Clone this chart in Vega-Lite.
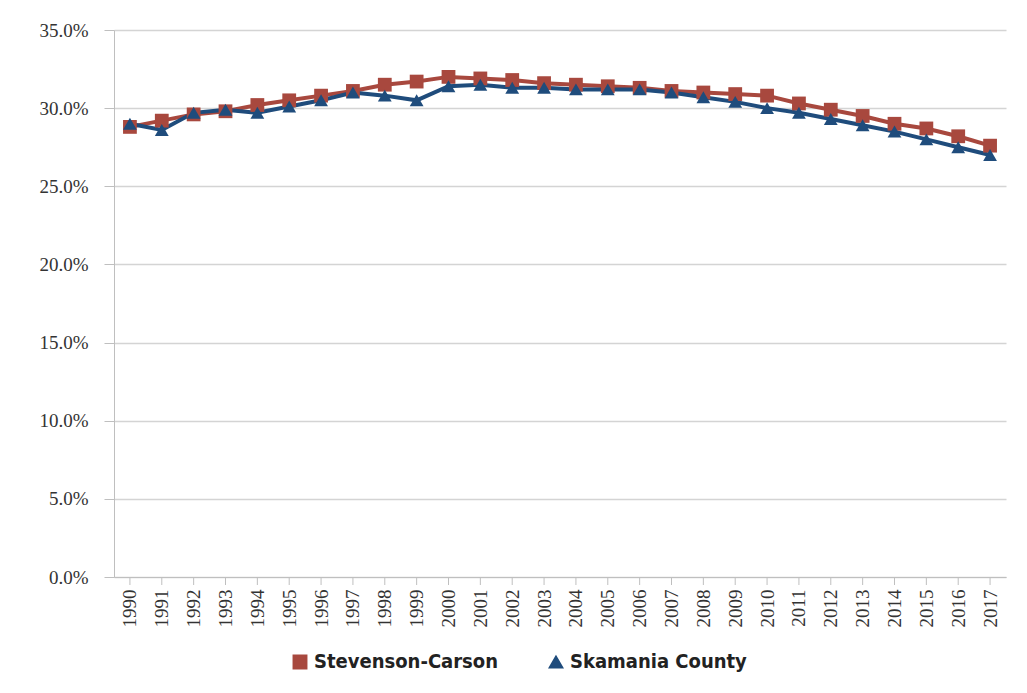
{
  "$schema": "https://vega.github.io/schema/vega-lite/v6.json",
  "width": 892,
  "height": 547,
  "autosize": {"type": "none"},
  "padding": {"left": 114, "top": 30, "right": 21, "bottom": 116},
  "background": "white",
  "config": {"view": {"stroke": null}},
  "data": {"values": [
    {"year": "1990", "series": "Stevenson-Carson", "value": 0.288},
    {"year": "1991", "series": "Stevenson-Carson", "value": 0.292},
    {"year": "1992", "series": "Stevenson-Carson", "value": 0.296},
    {"year": "1993", "series": "Stevenson-Carson", "value": 0.298},
    {"year": "1994", "series": "Stevenson-Carson", "value": 0.302},
    {"year": "1995", "series": "Stevenson-Carson", "value": 0.305},
    {"year": "1996", "series": "Stevenson-Carson", "value": 0.308},
    {"year": "1997", "series": "Stevenson-Carson", "value": 0.311},
    {"year": "1998", "series": "Stevenson-Carson", "value": 0.315},
    {"year": "1999", "series": "Stevenson-Carson", "value": 0.317},
    {"year": "2000", "series": "Stevenson-Carson", "value": 0.320},
    {"year": "2001", "series": "Stevenson-Carson", "value": 0.319},
    {"year": "2002", "series": "Stevenson-Carson", "value": 0.318},
    {"year": "2003", "series": "Stevenson-Carson", "value": 0.316},
    {"year": "2004", "series": "Stevenson-Carson", "value": 0.315},
    {"year": "2005", "series": "Stevenson-Carson", "value": 0.314},
    {"year": "2006", "series": "Stevenson-Carson", "value": 0.313},
    {"year": "2007", "series": "Stevenson-Carson", "value": 0.311},
    {"year": "2008", "series": "Stevenson-Carson", "value": 0.310},
    {"year": "2009", "series": "Stevenson-Carson", "value": 0.309},
    {"year": "2010", "series": "Stevenson-Carson", "value": 0.308},
    {"year": "2011", "series": "Stevenson-Carson", "value": 0.303},
    {"year": "2012", "series": "Stevenson-Carson", "value": 0.299},
    {"year": "2013", "series": "Stevenson-Carson", "value": 0.295},
    {"year": "2014", "series": "Stevenson-Carson", "value": 0.290},
    {"year": "2015", "series": "Stevenson-Carson", "value": 0.287},
    {"year": "2016", "series": "Stevenson-Carson", "value": 0.282},
    {"year": "2017", "series": "Stevenson-Carson", "value": 0.276},
    {"year": "1990", "series": "Skamania County", "value": 0.290},
    {"year": "1991", "series": "Skamania County", "value": 0.286},
    {"year": "1992", "series": "Skamania County", "value": 0.297},
    {"year": "1993", "series": "Skamania County", "value": 0.299},
    {"year": "1994", "series": "Skamania County", "value": 0.297},
    {"year": "1995", "series": "Skamania County", "value": 0.301},
    {"year": "1996", "series": "Skamania County", "value": 0.305},
    {"year": "1997", "series": "Skamania County", "value": 0.310},
    {"year": "1998", "series": "Skamania County", "value": 0.308},
    {"year": "1999", "series": "Skamania County", "value": 0.305},
    {"year": "2000", "series": "Skamania County", "value": 0.314},
    {"year": "2001", "series": "Skamania County", "value": 0.315},
    {"year": "2002", "series": "Skamania County", "value": 0.313},
    {"year": "2003", "series": "Skamania County", "value": 0.313},
    {"year": "2004", "series": "Skamania County", "value": 0.312},
    {"year": "2005", "series": "Skamania County", "value": 0.312},
    {"year": "2006", "series": "Skamania County", "value": 0.312},
    {"year": "2007", "series": "Skamania County", "value": 0.310},
    {"year": "2008", "series": "Skamania County", "value": 0.307},
    {"year": "2009", "series": "Skamania County", "value": 0.304},
    {"year": "2010", "series": "Skamania County", "value": 0.300},
    {"year": "2011", "series": "Skamania County", "value": 0.297},
    {"year": "2012", "series": "Skamania County", "value": 0.293},
    {"year": "2013", "series": "Skamania County", "value": 0.289},
    {"year": "2014", "series": "Skamania County", "value": 0.285},
    {"year": "2015", "series": "Skamania County", "value": 0.280},
    {"year": "2016", "series": "Skamania County", "value": 0.275},
    {"year": "2017", "series": "Skamania County", "value": 0.270}
  ]},
  "encoding": {
    "x": {
      "field": "year", "type": "ordinal",
      "scale": {"type": "point", "padding": 0.5},
      "axis": {
        "title": null, "labelAngle": 270, "labelFont": "Liberation Serif", "labelFontSize": 19,
        "labelColor": "#333333", "domainColor": "#BFBFBF", "grid": false, "labelPadding": 12, "ticks": false
      }
    },
    "y": {
      "field": "value", "type": "quantitative",
      "scale": {"domain": [0, 0.35], "nice": false},
      "axis": {
        "title": null, "format": ".1%", "values": [0, 0.05, 0.1, 0.15, 0.2, 0.25, 0.3, 0.35],
        "labelFont": "Liberation Serif", "labelFontSize": 19, "labelColor": "#333333",
        "domainColor": "#BFBFBF", "tickColor": "#BFBFBF", "tickSize": 10, "labelPadding": 16,
        "gridColor": "#D4D4D4", "gridWidth": 1.5
      }
    },
    "color": {
      "field": "series", "type": "nominal",
      "scale": {"domain": ["Stevenson-Carson", "Skamania County"], "range": ["#A8483E", "#1F4C7C"]},
      "legend": {
        "title": null, "orient": "none", "legendX": 176, "legendY": 622, "direction": "horizontal",
        "labelFont": "DejaVu Sans Condensed", "labelFontWeight": "bold", "labelFontSize": 20,
        "labelColor": "#222222", "symbolSize": 180, "columnPadding": 48, "labelOffset": 4, "labelLimit": 400
      }
    }
  },
  "layer": [
    {
      "mark": {"type": "line", "strokeWidth": 4},
      "encoding": {"detail": {"field": "series"}}
    },
    {
      "mark": {"type": "point", "filled": true, "opacity": 1, "size": 190},
      "encoding": {
        "shape": {
          "field": "series", "type": "nominal",
          "scale": {"domain": ["Stevenson-Carson", "Skamania County"], "range": ["square", "triangle-up"]},
          "legend": null
        }
      }
    },
    {
      "mark": {"type": "rule", "color": "#BFBFBF"},
      "data": {"values": [{"b": "1990"}, {"b": "1991"}, {"b": "1992"}, {"b": "1993"}, {"b": "1994"}, {"b": "1995"}, {"b": "1996"}, {"b": "1997"}, {"b": "1998"}, {"b": "1999"}, {"b": "2000"}, {"b": "2001"}, {"b": "2002"}, {"b": "2003"}, {"b": "2004"}, {"b": "2005"}, {"b": "2006"}, {"b": "2007"}, {"b": "2008"}, {"b": "2009"}, {"b": "2010"}, {"b": "2011"}, {"b": "2012"}, {"b": "2013"}, {"b": "2014"}, {"b": "2015"}, {"b": "2016"}, {"b": "2017"}]},
      "encoding": {
        "x": {"field": "b", "type": "ordinal", "bandPosition": 0},
        "y": {"value": 547},
        "y2": {"value": 555},
        "color": null
      }
    }
  ]
}
